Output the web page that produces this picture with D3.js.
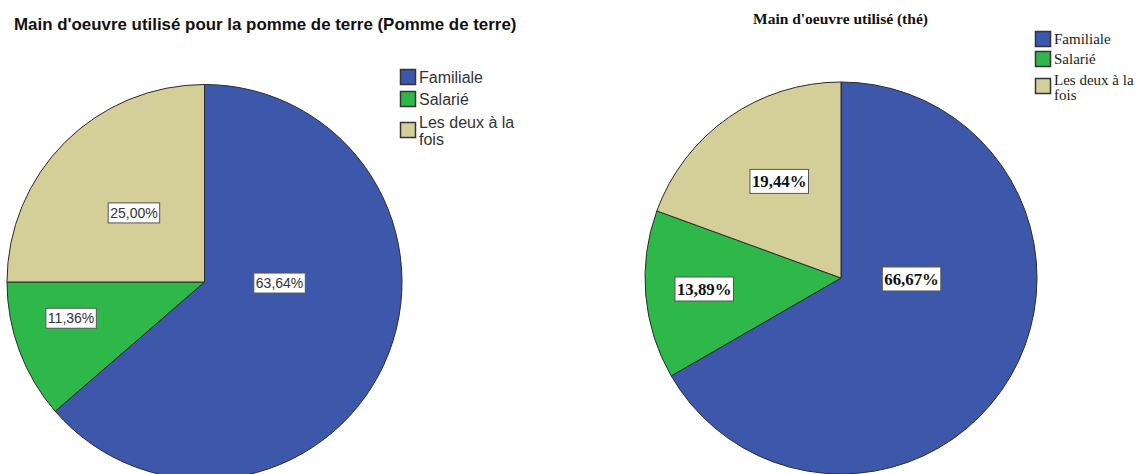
<!DOCTYPE html>
<html>
<head>
<meta charset="utf-8">
<script src="https://cdn.jsdelivr.net/npm/d3@7"></script>
<style>
	body { margin: 0; background: #fff; }
	svg { display: block; }
</style>
</head>
<body>
<div id="chart"></div>
<script>
const categories = ['Familiale', 'Salarié', 'Les deux à la fois'];
const potatoValues = [63.64, 11.36, 25.00];
const teaValues = [66.67, 13.89, 19.44];
const potatoTitle = "Main d'oeuvre utilisé pour la pomme de terre (Pomme de terre)";
const teaTitle = "Main d'oeuvre utilisé (thé)";
const colours = ['#3d58ab', '#2eb84a', '#d4cf98'];

const width = 1142;
const height = 474;

const svg = d3
	.select('#chart')
	.append('svg')
	.attr('width', width)
	.attr('height', height);

const fmt = (v) => d3.format('.2f')(v).replace('.', ',') + '%';

// label spots as [angle in degrees from 12 o'clock, fraction of radius]
const panels = [
	{
		values: potatoValues,
		title: potatoTitle,
		cx: 204.5, cy: 282, r: 197.5,
		font: '"Liberation Sans", Arial, sans-serif',
		titleX: 14, titleY: 30, titleSize: 16.9, titleWeight: 'bold',
		labelSize: 14, labelWeight: 'normal', labelColour: '#333', boxH: 20,
		labelSpots: [[90.8, 0.38], [254.8, 0.70], [314.4, 0.50]],
		legendX: 400, legendY: [69, 91, 122], swatch: 16, legendSize: 16, legendColour: '#333', lineH: 17
	},
	{
		values: teaValues,
		title: teaTitle,
		cx: 841, cy: 278, r: 196,
		font: '"Liberation Serif", "Times New Roman", serif',
		titleX: 753, titleY: 24, titleSize: 15.5, titleWeight: 'bold',
		labelSize: 16.8, labelWeight: 'bold', labelColour: '#111', boxH: 24,
		labelSpots: [[90.8, 0.36], [265.4, 0.70], [327.4, 0.585]],
		legendX: 1035, legendY: [31, 51, 78], swatch: 16, legendSize: 15, legendColour: '#222', lineH: 15
	}
];

const pie = d3.pie().sort(null).value((d) => d);

panels.forEach((p) => {
	const g = svg.append('g');

	g
		.append('text')
		.attr('x', p.titleX)
		.attr('y', p.titleY)
		.style('font-family', p.font)
		.style('font-size', `${p.titleSize}px`)
		.style('font-weight', p.titleWeight)
		.style('fill', '#111')
		.text(p.title);

	const arc = d3.arc().innerRadius(0).outerRadius(p.r);
	const pieG = g.append('g').attr('transform', `translate(${p.cx}, ${p.cy})`);
	const arcs = pie(p.values);

	pieG
		.selectAll('path')
		.data(arcs)
		.join('path')
		.attr('d', arc)
		.style('fill', (d, i) => colours[i])
		.style('stroke', '#2b2b2b')
		.style('stroke-width', 1);

	// value labels in white boxes
	const labels = pieG
		.selectAll('g.lab')
		.data(arcs)
		.join('g')
		.attr('class', 'lab')
		.attr('transform', (d, i) => {
			const [deg, f] = p.labelSpots[i];
			const a = deg * Math.PI / 180;
			return `translate(${Math.sin(a) * f * p.r}, ${-Math.cos(a) * f * p.r})`;
		});

	labels.each(function(d) {
		const lab = d3.select(this);
		const rect = lab.append('rect');
		const txt = lab
			.append('text')
			.attr('text-anchor', 'middle')
			.attr('dy', '0.35em')
			.style('font-family', p.font)
			.style('font-size', `${p.labelSize}px`)
			.style('font-weight', p.labelWeight)
			.style('fill', p.labelColour)
			.text(fmt(d.data));
		const w = txt.node().getComputedTextLength() + 4;
		rect
			.attr('x', -w / 2)
			.attr('y', -p.boxH / 2)
			.attr('width', w)
			.attr('height', p.boxH)
			.style('fill', '#fff')
			.style('stroke', '#555')
			.style('stroke-width', 1);
	});

	// legend
	const leg = g
		.selectAll('g.leg')
		.data(categories)
		.join('g')
		.attr('class', 'leg')
		.attr('transform', (d, i) => `translate(${p.legendX}, ${p.legendY[i]})`);

	leg
		.append('rect')
		.attr('x', 0.5)
		.attr('y', 0.5)
		.attr('width', p.swatch - 1)
		.attr('height', p.swatch - 1)
		.style('fill', (d, i) => colours[i])
		.style('stroke', '#333')
		.style('stroke-width', 1.5);

	leg.each(function(d, i) {
		const parts = i === 2 ? ['Les deux à la', 'fois'] : [d];
		const t = d3
			.select(this)
			.append('text')
			.style('font-family', p.font)
			.style('font-size', `${p.legendSize}px`)
			.style('fill', p.legendColour);
		const y0 = i === 2 ? p.swatch / 2 - p.lineH / 2 + 1 : p.swatch / 2;
		parts.forEach((s, k) => {
			t
				.append('tspan')
				.attr('x', p.swatch + 3)
				.attr('y', y0 + k * p.lineH)
				.attr('dy', '0.35em')
				.text(s);
		});
	});
});
</script>
</body>
</html>
